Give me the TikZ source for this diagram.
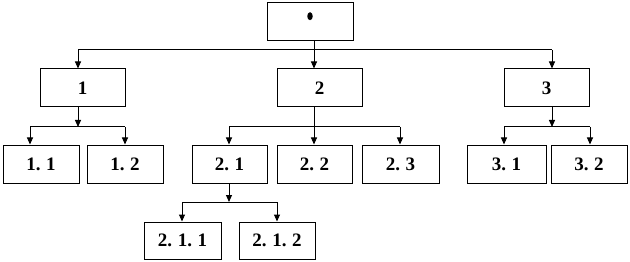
\documentclass[tikz,border=0pt]{standalone}
\usepackage{fontspec}
\setmainfont{Liberation Serif}
\usetikzlibrary{arrows.meta,shapes.geometric}
\newcommand{\gp}{\hspace{0.3em}}
\tikzset{
  box/.style={draw=black,line width=1pt,rectangle,minimum height=38pt,inner sep=0pt,
    font=\fontsize{19}{21}\selectfont\bfseries},
  conn/.style={line width=1pt,draw=black},
  arr/.style={conn,-{Triangle[length=7pt,width=6pt]}},
}
\begin{document}
\begin{tikzpicture}[x=1pt,y=-1pt]
\useasboundingbox (0,0) rectangle (630,262);
% boxes
\node[box,minimum width=86pt] (r) at (310,22) {};
\node[draw=none,fill=black,ellipse,minimum width=5.5pt,minimum height=8pt,inner sep=0pt] (rtxt) at (310,16.2) {};
\node[box,minimum width=85pt] (n1) at (82.5,88) {1};
\node[box,minimum width=85pt] (n2) at (319.5,88) {2};
\node[box,minimum width=85pt] (n3) at (546.5,88) {3};
\node[box,minimum width=76pt] (n11) at (41,164) {1.\gp1};
\node[box,minimum width=76pt] (n12) at (125,164) {1.\gp2};
\node[box,minimum width=75pt] (n21) at (229.5,164) {2.\gp1};
\node[box,minimum width=75pt] (n22) at (314.5,164) {2.\gp2};
\node[box,minimum width=77pt] (n23) at (400.5,164) {2.\gp3};
\node[box,minimum width=79pt] (n31) at (506.5,164) {3.\gp1};
\node[box,minimum width=76pt] (n32) at (589,164) {3.\gp2};
\node[box,minimum width=77pt,minimum height=37pt] (n211) at (182.5,240.5) {2.\gp1.\gp1};
\node[box,minimum width=76pt,minimum height=37pt] (n212) at (277,240.5) {2.\gp1.\gp2};
% bar coordinates
\coordinate (t0) at (314,50);
\coordinate (tl) at (78,50);
\coordinate (tr) at (552,50);
\coordinate (a1) at (78,127);
\coordinate (a1l) at (30,127);
\coordinate (a1r) at (125,127);
\coordinate (a2) at (314,127);
\coordinate (a2l) at (229,127);
\coordinate (a2r) at (400,127);
\coordinate (a3) at (552,127);
\coordinate (a3l) at (504,127);
\coordinate (a3r) at (590,127);
\coordinate (b1) at (229,202);
\coordinate (b1l) at (182,202);
\coordinate (b1r) at (277,202);
% level 1
\draw[arr] (r.south -| t0) -- (t0 |- n2.north);
\draw[conn] (tl) -- (tr);
\draw[arr] (tl) -- (tl |- n1.north);
\draw[arr] (tr) -- (tr |- n3.north);
% group 1
\draw[arr] (a1 |- n1.south) -- (a1);
\draw[conn] (a1l) -- (a1r);
\draw[arr] (a1l) -- (a1l |- n11.north);
\draw[arr] (a1r) -- (a1r |- n12.north);
% group 2
\draw[arr] (a2 |- n2.south) -- (a2 |- n22.north);
\draw[conn] (a2l) -- (a2r);
\draw[arr] (a2l) -- (a2l |- n21.north);
\draw[arr] (a2r) -- (a2r |- n23.north);
% group 3
\draw[arr] (a3 |- n3.south) -- (a3);
\draw[conn] (a3l) -- (a3r);
\draw[arr] (a3l) -- (a3l |- n31.north);
\draw[arr] (a3r) -- (a3r |- n32.north);
% level 3
\draw[arr] (b1 |- n21.south) -- (b1);
\draw[conn] (b1l) -- (b1r);
\draw[arr] (b1l) -- (b1l |- n211.north);
\draw[arr] (b1r) -- (b1r |- n212.north);
\end{tikzpicture}
\end{document}
